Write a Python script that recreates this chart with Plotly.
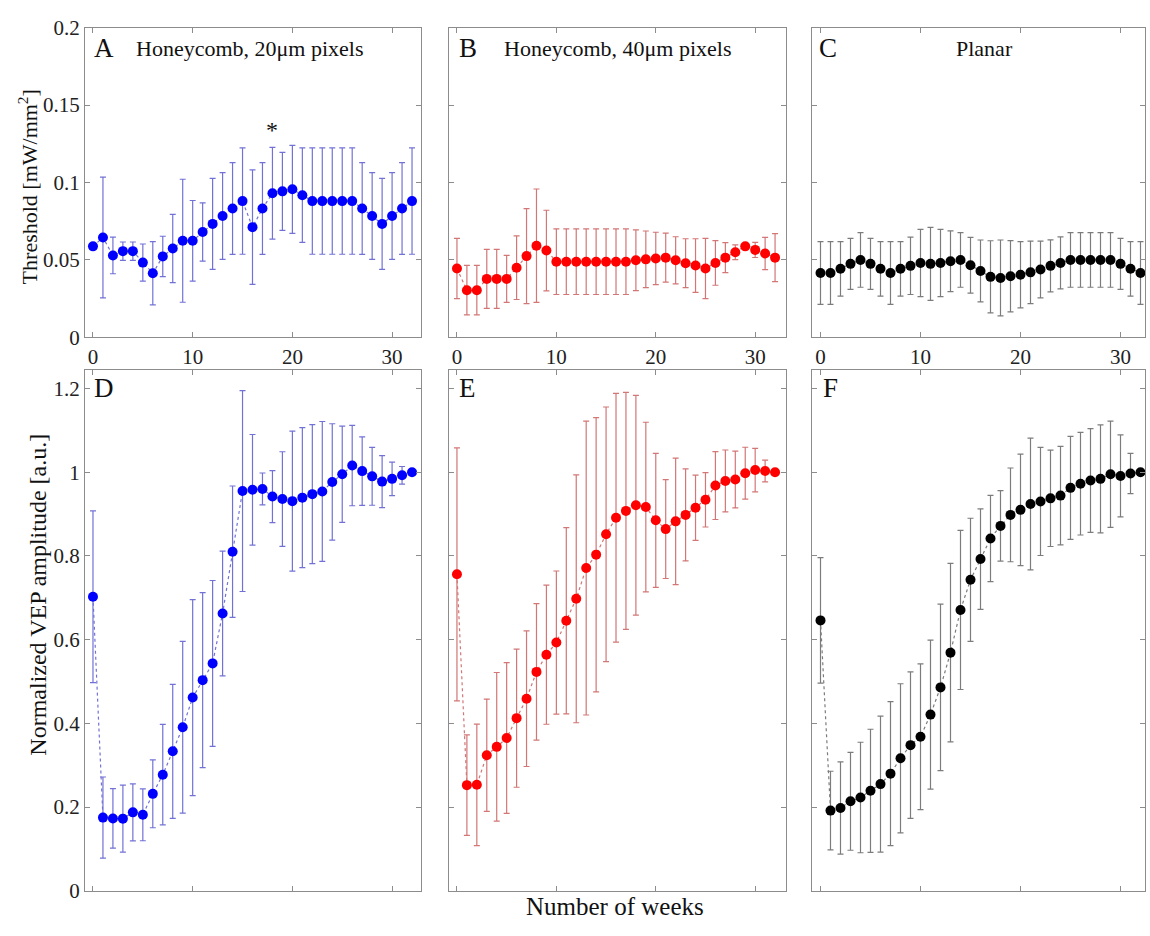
import plotly.graph_objects as go

W, H = 1150, 936

weeks = list(range(33))

# Panel A: Honeycomb 20um threshold
thr_20 = [0.0588, 0.0645, 0.0529, 0.0557, 0.0557, 0.0483, 0.0414, 0.0523, 0.0574, 0.0624,
          0.0624, 0.0681, 0.0733, 0.0784, 0.0832, 0.0880, 0.0712, 0.0832, 0.0931, 0.0943,
          0.0956, 0.0918, 0.0880, 0.0880, 0.0880, 0.0880, 0.0880, 0.0832, 0.0784, 0.0733,
          0.0784, 0.0832, 0.0880]
thr_20_err = [0.0, 0.039, 0.0118, 0.0059, 0.0059, 0.012, 0.0204, 0.013, 0.022, 0.0397,
              0.026, 0.0188, 0.0294, 0.028, 0.0296, 0.0343, 0.037, 0.0296, 0.0296, 0.0252,
              0.0284, 0.0305, 0.0343, 0.0343, 0.0343, 0.0343, 0.0343, 0.0296, 0.028, 0.0294,
              0.028, 0.0296, 0.0343]

# Panel B: Honeycomb 40um threshold
thr_40 = [0.0445, 0.0305, 0.0305, 0.0378, 0.0378, 0.0378, 0.045, 0.0525, 0.0592, 0.0561,
          0.0489, 0.0489, 0.0489, 0.0489, 0.0489, 0.0489, 0.0489, 0.0489, 0.0498, 0.0504,
          0.051, 0.0515, 0.0498, 0.0479, 0.0464, 0.0445, 0.0481, 0.0515, 0.055, 0.0588,
          0.0565, 0.0542, 0.0515]
thr_40_err = [0.0194, 0.016, 0.016, 0.0191, 0.0191, 0.0152, 0.0205, 0.0307, 0.0366, 0.026,
              0.0212, 0.0212, 0.0212, 0.0212, 0.0212, 0.0212, 0.0212, 0.0212, 0.0196, 0.0183,
              0.0169, 0.0158, 0.0152, 0.0158, 0.0173, 0.0194, 0.0144, 0.0097, 0.0048, 0.0,
              0.0049, 0.0104, 0.0155]

# Panel C: Planar threshold
thr_pl = [0.0416, 0.0416, 0.0443, 0.0475, 0.05, 0.0475, 0.0443, 0.0416, 0.0443, 0.0462,
          0.0481, 0.0475, 0.0481, 0.0492, 0.05, 0.0466, 0.0429, 0.0391, 0.0384, 0.0395,
          0.0405, 0.042, 0.0439, 0.0462, 0.0481, 0.05, 0.05, 0.05, 0.05, 0.05,
          0.0475, 0.0443, 0.0416]
thr_pl_err = [0.0202, 0.0202, 0.0176, 0.0165, 0.0176, 0.0165, 0.0176, 0.0202, 0.0176, 0.0185,
              0.0217, 0.0236, 0.0217, 0.0196, 0.0176, 0.018, 0.02, 0.0233, 0.0245, 0.023,
              0.0214, 0.0202, 0.0183, 0.0168, 0.0168, 0.0176, 0.0176, 0.0176, 0.0176, 0.0176,
              0.0165, 0.0176, 0.0202]

# Panel D: Honeycomb 20um VEP
vep_20 = [0.7025, 0.175, 0.173, 0.1725, 0.1875, 0.1817, 0.2317, 0.2775, 0.3333, 0.3908,
          0.4617, 0.5033, 0.5433, 0.6625, 0.81, 0.955, 0.958, 0.96, 0.9417, 0.9358,
          0.9308, 0.9392, 0.9475, 0.954, 0.9767, 0.995, 1.0158, 1.0025, 0.99, 0.9775,
          0.984, 0.9925, 1.0]
vep_20_err = [0.205, 0.097, 0.071, 0.08, 0.068, 0.062, 0.081, 0.12, 0.16, 0.205,
              0.234, 0.209, 0.198, 0.149, 0.157, 0.24, 0.132, 0.038, 0.062, 0.113,
              0.167, 0.167, 0.166, 0.167, 0.139, 0.115, 0.096, 0.082, 0.069, 0.062,
              0.04, 0.021, 0.0]

# Panel E: Honeycomb 40um VEP
vep_40 = [0.756, 0.2525, 0.2533, 0.324, 0.344, 0.365, 0.4125, 0.459, 0.523, 0.564,
          0.593, 0.645, 0.6975, 0.771, 0.803, 0.8517, 0.891, 0.9075, 0.921, 0.9167,
          0.885, 0.864, 0.8825, 0.898, 0.915, 0.934, 0.968, 0.979, 0.9825, 0.9975,
          1.005, 1.003, 1.0]
vep_40_err = [0.302, 0.12, 0.145, 0.134, 0.1775, 0.18, 0.165, 0.162, 0.163, 0.166,
              0.171, 0.2225, 0.296, 0.351, 0.3275, 0.304, 0.297, 0.283, 0.2625, 0.2025,
              0.16, 0.118, 0.151, 0.11, 0.078, 0.065, 0.081, 0.074, 0.068, 0.062,
              0.052, 0.026, 0.0]

# Panel F: Planar VEP
vep_pl = [0.646, 0.1917, 0.198, 0.214, 0.223, 0.239, 0.255, 0.28, 0.3167, 0.348,
          0.368, 0.421, 0.486, 0.569, 0.671, 0.743, 0.7925, 0.8417, 0.8717, 0.898,
          0.91, 0.924, 0.93, 0.9375, 0.944, 0.9625, 0.9725, 0.98, 0.984, 0.995,
          0.991, 0.9967, 1.0]
vep_pl_err = [0.15, 0.094, 0.11, 0.117, 0.132, 0.147, 0.1625, 0.172, 0.178, 0.175,
              0.174, 0.178, 0.199, 0.213, 0.19, 0.147, 0.12, 0.103, 0.084, 0.112,
              0.133, 0.1575, 0.129, 0.115, 0.1175, 0.123, 0.1225, 0.124, 0.129, 0.127,
              0.098, 0.048, 0.0]

x_ticks = [0, 10, 20, 30]
x_ticklabels = ["0", "10", "20", "30"]
thr_ticks = [0, 0.05, 0.1, 0.15, 0.2]
thr_ticklabels = ["0", "0.05", "0.1", "0.15", "0.2"]
vep_ticks = [0, 0.2, 0.4, 0.6, 0.8, 1.0, 1.2]
vep_ticklabels = ["0", "0.2", "0.4", "0.6", "0.8", "1", "1.2"]

panel_letters = ["A", "B", "C", "D", "E", "F"]
panel_titles = ["Honeycomb, 20μm pixels", "Honeycomb, 40μm pixels", "Planar"]

FONT = "Liberation Serif"
blue, red, black = "#0000ff", "#ff0000", "#000000"
blue_e, red_e, black_e = "#7272d6", "#d27676", "#7c7c7c"

def px_x(p):
    return p / W

def px_y(p):
    return 1 - p / H

# panel pixel boxes (left, right), (top, bottom)
cols = [(85, 421), (449, 786), (812, 1145)]
rows = [(16, 334), (367, 902)]
xranges = [[-0.8, 32.9], [-0.8, 33.1], [-0.85, 32.45]]

series = [
    (thr_20, thr_20_err, blue, blue_e),
    (thr_40, thr_40_err, red, red_e),
    (thr_pl, thr_pl_err, black, black_e),
    (vep_20, vep_20_err, blue, blue_e),
    (vep_40, vep_40_err, red, red_e),
    (vep_pl, vep_pl_err, black, black_e),
]

fig = go.Figure()
layout = dict(
    width=W, height=H,
    margin=dict(l=0, r=0, t=0, b=0),
    paper_bgcolor="white", plot_bgcolor="white",
    showlegend=False,
    font=dict(family=FONT, color="#222222", size=20),
)

for i, (yv, ev, c, ce) in enumerate(series):
    r, col = divmod(i, 3)
    idx = i + 1
    xa = "x" if idx == 1 else f"x{idx}"
    ya = "y" if idx == 1 else f"y{idx}"
    fig.add_trace(go.Scatter(
        x=weeks, y=yv, xaxis=xa, yaxis=ya, mode="lines+markers",
        line=dict(color=ce, width=1.2, dash="dot"),
        marker=dict(color=c, size=10),
        error_y=dict(type="data", array=ev, visible=True, color=ce, thickness=1.2, width=3),
        cliponaxis=False,
    ))
    common = dict(showline=True, linecolor="#8c8c8c", linewidth=1, mirror="ticks",
                  ticks="inside", ticklen=5, tickcolor="#8c8c8c", showgrid=False,
                  zeroline=False, tickfont=dict(family=FONT, size=21, color="#222222"))
    xkey = "xaxis" if idx == 1 else f"xaxis{idx}"
    ykey = "yaxis" if idx == 1 else f"yaxis{idx}"
    layout[xkey] = dict(common, domain=[px_x(cols[col][0]), px_x(cols[col][1])],
                        range=xranges[col], tickvals=x_ticks, ticktext=x_ticklabels,
                        showticklabels=(r == 0), anchor=ya)
    if r == 0:
        layout[ykey] = dict(common, domain=[px_y(rows[0][1]), px_y(rows[0][0])],
                            range=[0, 0.2], tickvals=thr_ticks, ticktext=thr_ticklabels,
                            showticklabels=(col == 0), anchor=xa)
    else:
        layout[ykey] = dict(common, domain=[px_y(rows[1][1]), px_y(rows[1][0])],
                            range=[0, 1.245], tickvals=vep_ticks, ticktext=vep_ticklabels,
                            showticklabels=(col == 0), anchor=xa)

annotations = []
letter_pos = [(104, 37), (468, 37), (828, 37), (104, 386), (467, 386), (830, 386)]
for L, (lx, ly) in zip(panel_letters, letter_pos):
    annotations.append(dict(text=L, x=px_x(lx), y=px_y(ly), xref="paper", yref="paper",
                            showarrow=False, xanchor="center", yanchor="middle",
                            font=dict(family=FONT, size=27, color="#111111")))
title_pos = [(250, 37), (618, 37), (984, 37)]
for t, (tx, ty) in zip(panel_titles, title_pos):
    annotations.append(dict(text=t, x=px_x(tx), y=px_y(ty), xref="paper", yref="paper",
                            showarrow=False, xanchor="center", yanchor="middle",
                            font=dict(family=FONT, size=22, color="#111111")))
annotations.append(dict(text="*", x=18, y=0.134, xref="x", yref="y", showarrow=False,
                        xanchor="center", yanchor="middle",
                        font=dict(family=FONT, size=24, color="#111111")))
annotations.append(dict(text="Threshold [mW/mm<sup>2</sup>]", x=px_x(28), y=px_y(180),
                        xref="paper", yref="paper", showarrow=False, textangle=-90,
                        xanchor="center", yanchor="middle",
                        font=dict(family=FONT, size=22, color="#111111")))
annotations.append(dict(text="Normalized VEP amplitude [a.u.]", x=px_x(38), y=px_y(598),
                        xref="paper", yref="paper", showarrow=False, textangle=-90,
                        xanchor="center", yanchor="middle",
                        font=dict(family=FONT, size=24, color="#111111")))
annotations.append(dict(text="Number of weeks", x=px_x(615), y=px_y(918),
                        xref="paper", yref="paper", showarrow=False,
                        xanchor="center", yanchor="middle",
                        font=dict(family=FONT, size=25, color="#111111")))
layout["annotations"] = annotations

fig.update_layout(**layout)
fig.write_html("out.html", config={"displayModeBar": False},
               post_script="document.body.style.margin='0px';document.body.style.overflow='hidden';")
